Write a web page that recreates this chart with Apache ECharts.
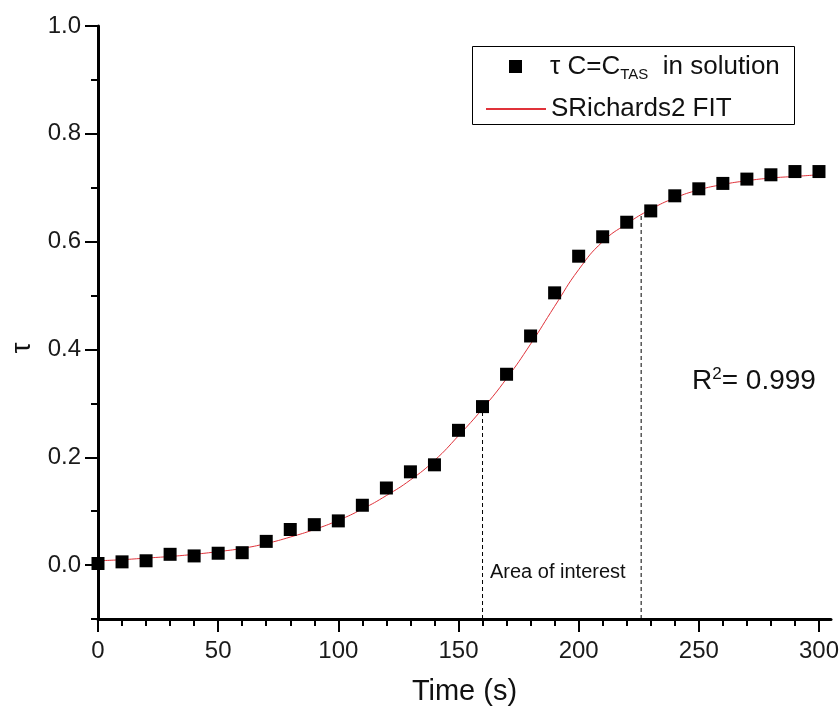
<!DOCTYPE html>
<html>
<head>
<meta charset="utf-8">
<script src="https://cdn.jsdelivr.net/npm/echarts@6/dist/echarts.min.js"></script>
<style>
html,body{margin:0;padding:0;background:#fff;}
#chart{width:839px;height:709px;}
</style>
</head>
<body>
<div id="chart"></div>
<script>
// ---- data ----
const timeValues = [0,10,20,30,40,50,60,70,80,90,100,110,120,130,140,150,160,170,180,190,200,210,220,230,240,250,260,270,280,290,300];
const tauValues  = [0.003,0.006,0.008,0.020,0.017,0.022,0.023,0.044,0.066,0.075,0.082,0.111,0.143,0.173,0.186,0.250,0.294,0.354,0.425,0.505,0.573,0.609,0.636,0.657,0.685,0.698,0.708,0.716,0.724,0.730,0.730];
const fitTime    = [0,10,20,30,40,50,60,70,80,90,100,110,120,130,140,150,160,170,180,190,200,210,220,230,240,250,260,270,280,290,300];
const fitTau     = [0.008,0.010,0.013,0.016,0.020,0.025,0.031,0.040,0.052,0.066,0.083,0.104,0.129,0.158,0.194,0.240,0.290,0.346,0.410,0.480,0.548,0.600,0.633,0.660,0.681,0.696,0.706,0.713,0.718,0.721,0.724];
const markerTimes = [160, 226];
const markerTops  = [0.294, 0.650];
const xMajorTicks = [0,50,100,150,200,250,300];
const xMinorTicks = [10,20,30,40,60,70,80,90,110,120,130,140,160,170,180,190,210,220,230,240,260,270,280,290];
const yMajorTicks = [0,0.2,0.4,0.6,0.8,1.0];
const yMinorTicks = [-0.1,0.1,0.3,0.5,0.7,0.9];
const xRange = [0, 305];
const yRange = [-0.1, 1.0];
const scatterName = 'τ C=C_TAS in solution';
const fitName = 'SRichards2 FIT';

const FONT = 'Liberation Sans, Arial, sans-serif';
const chart = echarts.init(document.getElementById('chart'), null, {renderer:'canvas'});

const scatterData = timeValues.map((t,i)=>[t,tauValues[i]]);
const fitData = fitTime.map((t,i)=>[t,fitTau[i]]);
const dashSeries = markerTimes.map((t,i)=>({
  type:'line', data:[[t, yRange[0]],[t, markerTops[i]]], symbol:'none', silent:true, z:1,
  lineStyle:{color:'#000', width:1, type:[4,3]}
}));

const tickStyle = {color:'#000', width:2};
const labelStyle = {fontSize:24, color:'#1a1a1a', fontFamily:FONT};

const option = {
  animation:false,
  backgroundColor:'#fff',
  textStyle:{fontFamily:FONT},
  grid:{left:98, right:8, top:26, bottom:90, containLabel:false, outerBoundsMode:'none'},
  xAxis:[
    {type:'value', min:xRange[0], max:xRange[1], position:'bottom',
     axisLine:{onZero:false, lineStyle:{color:'#000', width:3}},
     axisTick:{customValues:xMajorTicks, length:13, lineStyle:tickStyle},
     axisLabel:Object.assign({customValues:xMajorTicks, margin:20}, labelStyle),
     splitLine:{show:false},
     name:'Time (s)', nameLocation:'middle', nameGap:58,
     nameTextStyle:{fontSize:29, color:'#111', fontFamily:FONT}},
    {type:'value', min:xRange[0], max:xRange[1], position:'bottom',
     axisLine:{show:false, onZero:false},
     axisTick:{show:true, customValues:xMinorTicks, length:7, lineStyle:tickStyle},
     axisLabel:{show:false}, splitLine:{show:false}}
  ],
  yAxis:[
    {type:'value', min:yRange[0], max:yRange[1], position:'left',
     axisLine:{onZero:false, lineStyle:{color:'#000', width:3}},
     axisTick:{customValues:yMajorTicks, length:13, lineStyle:tickStyle},
     axisLabel:Object.assign({customValues:yMajorTicks, margin:17, formatter:v=>Number(v).toFixed(1)}, labelStyle),
     splitLine:{show:false}},
    {type:'value', min:yRange[0], max:yRange[1], position:'left',
     axisLine:{show:false, onZero:false},
     axisTick:{show:true, customValues:yMinorTicks, length:7, lineStyle:tickStyle},
     axisLabel:{show:false}, splitLine:{show:false}}
  ],
  legend:[
    {data:[{name:scatterName, icon:'rect'}], left:504, top:46, padding:5, itemWidth:13, itemHeight:13, selectedMode:false,
     itemStyle:{opacity:1},
     formatter:()=> '{sp|}{a|τ C=C}{s|TAS}{a|  in solution}',
     textStyle:{fontFamily:FONT, color:'#111', rich:{
       sp:{width:23},
       a:{fontSize:26, lineHeight:30, fontFamily:FONT, color:'#111'},
       s:{fontSize:15, lineHeight:15, padding:[16,0,0,0], fontFamily:FONT, color:'#111'}}}},
    {data:[fitName], left:480, top:91, padding:5, itemWidth:60, itemHeight:1, selectedMode:false,
     textStyle:{fontFamily:FONT, fontSize:26, color:'#111'}}
  ],
  graphic:[
    {type:'rect', left:470, top:44, silent:true, shape:{width:322, height:78},
     style:{fill:'none', stroke:'#000', lineWidth:1}},
    {type:'text', x:22, y:348, rotation:Math.PI/2, silent:true,
     style:{text:'τ', fontSize:28, fontFamily:FONT, fill:'#111', align:'center', verticalAlign:'middle'}},
    {type:'text', x:490, y:572, silent:true,
     style:{text:'Area of interest', fontSize:20, fontFamily:FONT, fill:'#111', verticalAlign:'middle'}},
    {type:'text', x:692, y:381, silent:true,
     style:{text:'{a|R}{b|2}{a|= 0.999}', verticalAlign:'middle', fill:'#111',
       rich:{a:{fontSize:28, fontFamily:FONT, fill:'#111', lineHeight:32},
             b:{fontSize:17, fontFamily:FONT, fill:'#111', padding:[0,0,14,0]}}}}
  ],
  series:[
    ...dashSeries,
    {name:fitName, type:'line', data:fitData, symbol:'none', smooth:true, z:2,
     lineStyle:{color:'#e0323a', width:1}, itemStyle:{color:'#e0323a'}},
    {name:scatterName, type:'scatter', data:scatterData, symbol:'rect', symbolSize:13, z:3,
     itemStyle:{color:'#000', opacity:1}}
  ]
};
chart.setOption(option);
</script>
</body>
</html>
